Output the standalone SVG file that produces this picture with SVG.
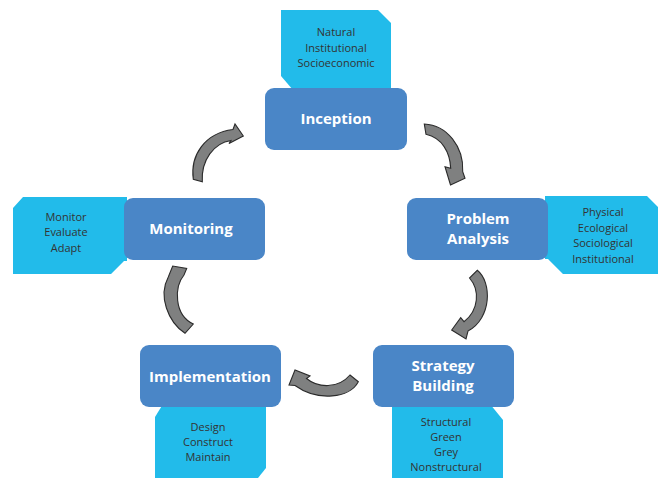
<svg xmlns="http://www.w3.org/2000/svg" width="658" height="478" viewBox="0 0 658 478">
  <style>
    .tab { fill: #22bbea; }
    .box { fill: #4a86c7; }
    .label { font-family: "Open Sans", "Liberation Sans", sans-serif; font-weight: bold; font-size: 15px; fill: #ffffff; text-anchor: middle; }
    .item { font-family: "Open Sans", "Liberation Sans", sans-serif; font-size: 11px; fill: #333333; text-anchor: middle; }
    .arrow { fill: #7f8080; stroke: #2b2b2b; stroke-width: 1.1; stroke-linejoin: miter; }
  </style>
  <rect width="658" height="478" fill="#ffffff"/>

  <!-- Inception -->
  <g id="inception">
    <path class="tab" d="M281,10 L378,10 L391,23 L391,90 L293,90 L281,76 Z"/>
    <rect class="box" x="265" y="88" width="142" height="62" rx="9"/>
    <text class="item" x="336" y="36">Natural</text>
    <text class="item" x="336" y="52">Institutional</text>
    <text class="item" x="336" y="67">Socioeconomic</text>
    <text class="label" x="336" y="124">Inception</text>
  </g>

  <!-- Problem Analysis -->
  <g id="problem-analysis">
    <path class="tab" d="M545,196 L647,196 L658,207 L658,274 L563,274 L548,259 L545,259 Z"/>
    <rect class="box" x="407" y="198" width="141" height="62" rx="9"/>
    <text class="item" x="603" y="215.5">Physical</text>
    <text class="item" x="603" y="231.5">Ecological</text>
    <text class="item" x="603" y="247">Sociological</text>
    <text class="item" x="603" y="262.5">Institutional</text>
    <text class="label" x="478" y="224">Problem</text>
    <text class="label" x="478" y="243.5">Analysis</text>
  </g>

  <!-- Strategy Building -->
  <g id="strategy-building">
    <path class="tab" d="M392,404 L490,404 L503,420 L503,478 L392,478 Z"/>
    <rect class="box" x="373" y="345" width="141" height="62" rx="9"/>
    <text class="item" x="446" y="425.5">Structural</text>
    <text class="item" x="446" y="441">Green</text>
    <text class="item" x="446" y="456">Grey</text>
    <text class="item" x="446" y="471">Nonstructural</text>
    <text class="label" x="443" y="371">Strategy</text>
    <text class="label" x="443" y="390.5">Building</text>
  </g>

  <!-- Implementation -->
  <g id="implementation">
    <path class="tab" d="M163,404 L266,404 L266,468 L258,478 L155,478 L155,417 Z"/>
    <rect class="box" x="140" y="345" width="141" height="62" rx="9"/>
    <text class="item" x="208" y="430.5">Design</text>
    <text class="item" x="208" y="446">Construct</text>
    <text class="item" x="208" y="461">Maintain</text>
    <text class="label" x="210" y="382">Implementation</text>
  </g>

  <!-- Monitoring -->
  <g id="monitoring">
    <path class="tab" d="M23,197 L127,197 L127,261 L124,261 L111,274 L13,274 L13,208 Z"/>
    <rect class="box" x="124" y="198" width="141" height="62" rx="9"/>
    <text class="item" x="66" y="220.5">Monitor</text>
    <text class="item" x="66" y="236">Evaluate</text>
    <text class="item" x="66" y="251.5">Adapt</text>
    <text class="label" x="191" y="233.5">Monitoring</text>
  </g>

  <!-- Curved cycle arrows between stages -->
  <g id="connectors">
    <path class="arrow" d="M424.3,124 C447,125 464,147 462.7,171.7 L465,178.3 L450.5,185 L445,166.7 L450.7,168.3 C450,152 442,138 426,134.3 Z"/>
    <path class="arrow" d="M477.3,270.3 C492,282 492,318 468,331 L466,339 L451.7,330 L460.7,317.7 L464,321.7 C479,310 480,290 469.5,278 Z"/>
    <path class="arrow" d="M350,375 L358.3,381.7 C350,398 318,402 295,385.5 L289,385 L295,370 L310,376 L306.5,378.5 C318,388 338,389 350,375 Z"/>
    <path class="arrow" d="M185,333.3 C168,322 158,296 168.3,277 L172.7,266 L186.7,268.5 L184,275 C174,287 174,315 193.3,324 Z"/>
    <path class="arrow" d="M193.3,179.3 C190,155 205,133 233,129.5 L235,124 L243.3,136 L229,143.5 L231,140.5 C214,143 201,160 202.3,181.7 Z"/>
  </g>
</svg>
